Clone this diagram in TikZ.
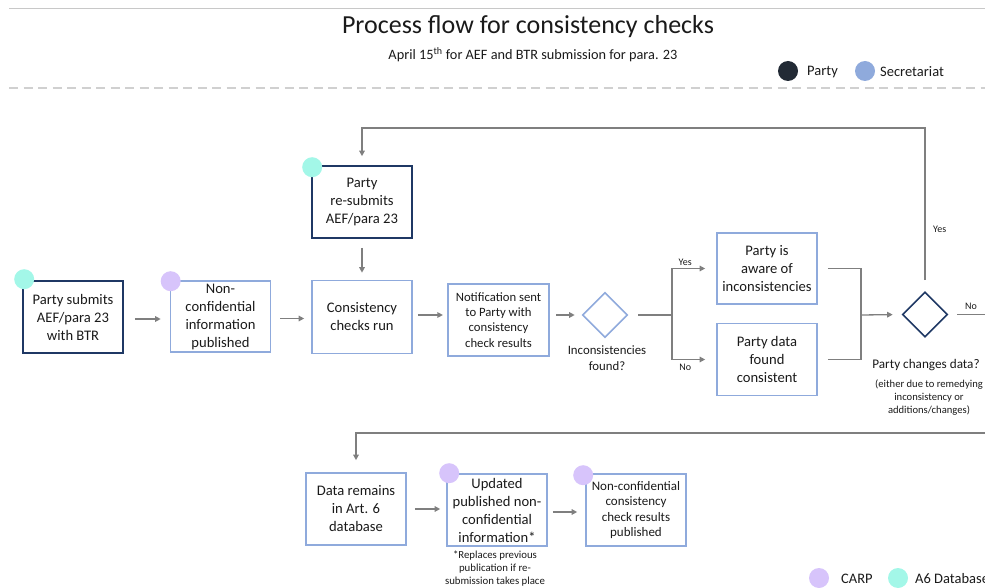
\documentclass[tikz,border=0pt]{standalone}
\usepackage{fontspec}
\setmainfont{Carlito}
\usetikzlibrary{shapes.geometric,arrows.meta}

\definecolor{navy}{HTML}{1F3864}
\definecolor{partydot}{HTML}{222A35}
\definecolor{secblue}{HTML}{8FAADC}
\definecolor{carp}{HTML}{D7C4FB}
\definecolor{aqua}{HTML}{A3F7E8}
\definecolor{flowgray}{HTML}{7F7F7F}
\definecolor{txt}{HTML}{1A1A1A}
\definecolor{rulegray}{HTML}{C8C8C8}
\definecolor{dashgray}{HTML}{D0D0D0}

\tikzset{
  box/.style={minimum width=100pt, minimum height=72pt, inner sep=1pt,
    align=center, text=txt, font=\fontsize{14.6}{18}\selectfont},
  partybox/.style={box, draw=navy, line width=1.6pt},
  secbox/.style={box, draw=secblue, line width=1.6pt},
  decision/.style={diamond, minimum width=45pt, minimum height=45pt,
    inner sep=0pt, line width=1.6pt},
  dot/.style={circle, fill=#1, minimum size=20pt, inner sep=0pt},
  link/.style={draw=flowgray, line width=1.3pt},
  flow/.style={link, -{Triangle[length=5.5pt,width=5.5pt]}},
  tag/.style={text=txt, font=\fontsize{10}{12}\selectfont, inner sep=1pt},
  note/.style={text=txt, align=center, inner sep=0pt},
  legendtext/.style={note, anchor=west, font=\fontsize{14.5}{16}\selectfont},
}

\begin{document}
\begin{tikzpicture}[x=1pt,y=-1pt]
\useasboundingbox (0,0) rectangle (985,588);
\clip (0,0) rectangle (985,588);

% header
\draw[rulegray, line width=1pt] (9,9) -- (990,9);
\node[note, font=\fontsize{26}{30}\selectfont] (title) at (528,27)
  {Process flow for consistency checks};
\node[note, font=\fontsize{14.3}{16}\selectfont] (subtitle) at (533,55)
  {April 15\textsuperscript{th} for AEF and BTR submission for para. 23};
\draw[dashgray, line width=2pt, dash pattern=on 9pt off 5.5pt] (9,88) -- (990,88);

% legend (roles)
\node[dot=partydot] (lgparty) at (788,71) {};
\node[legendtext] (lgpartyt) at (807,72) {Party};
\node[dot=secblue] (lgsec) at (865,71) {};
\node[legendtext] (lgsect) at (880,72) {Secretariat};

% legend (systems)
\node[dot=carp] (lgcarp) at (819,578) {};
\node[legendtext] (lgcarpt) at (841,579) {CARP};
\node[dot=aqua] (lgaqua) at (898,578) {};
\node[legendtext] (lgaquat) at (915,579) {A6 Database};

% steps
\node[partybox] (A) at (73,317) {Party submits\\AEF/para 23\\with BTR};
\node[secbox, minimum height=71pt] (B) at (220.5,316.5) {Non-\\confidential\\information\\published};
\node[secbox, minimum height=73pt] (C) at (362,317) {Consistency\\checks run};
\node[partybox] (D) at (362,202) {Party\\re-submits\\AEF/para 23};
\node[secbox, minimum width=101pt, line width=2.2pt,
      font=\fontsize{12.7}{15.3}\selectfont] (E) at (498.5,320)
  {Notification sent\\to Party with\\consistency\\check results};
\node[decision, draw=secblue] (d1) at (605,315) {};
\node[note, anchor=north, font=\fontsize{12.8}{16}\selectfont] (d1t) at (607,345)
  {Inconsistencies\\found?};
\node[secbox, minimum height=71pt] (F) at (767,268.5) {Party is\\aware of\\inconsistencies};
\node[secbox] (G) at (767,359.5) {Party data\\found\\consistent};
\node[decision, draw=navy] (d2) at (925,314.5) {};
\node[note, font=\fontsize{13.2}{15}\selectfont] (d2t) at (926,365) {Party changes data?};
\node[note, anchor=north, font=\fontsize{10.6}{13}\selectfont] (d2n) at (929,380)
  {(either due to remedying\\inconsistency or\\additions/changes)};
\node[secbox] (H) at (356,509) {Data remains\\in Art. 6\\database};
\node[secbox] (I) at (497,510) {Updated\\published non-\\confidential\\information*};
\node[note, anchor=north, font=\fontsize{10.8}{13}\selectfont] (Inote) at (495,551)
  {*Replaces previous\\publication if re-\\submission takes place};
\node[secbox, font=\fontsize{13}{15.5}\selectfont] (J) at (636,510)
  {Non-confidential\\consistency\\check results\\published};

% system markers on the boxes
\node[dot=aqua] (Amark) at ([xshift=2pt,yshift=1pt]A.north west) {};
\node[dot=carp] (Bmark) at ([xshift=1pt,yshift=-1pt]B.north west) {};
\node[dot=aqua] (Dmark) at ([xshift=1pt,yshift=-2pt]D.north west) {};
\node[dot=carp] (Imark) at ([xshift=3pt]I.north west) {};
\node[dot=carp] (Jmark) at ([xshift=-2pt,yshift=-2pt]J.north west) {};

% helper points
\coordinate (j1) at (672,315);
\coordinate (j2) at (861,315);
\coordinate (loopy) at (0,128);
\coordinate (edge) at (995,0);
\coordinate (lowy) at (0,433);

% main flow
\draw[flow, shorten <=11pt, shorten >=9pt] ([yshift=-2pt]A.east) -- ([yshift=-2pt]B.west |- A.east);
\draw[flow, shorten <=9pt, shorten >=7pt] ([yshift=-2pt]B.east) -- ([yshift=-2pt]C.west |- B.east);
\draw[flow, shorten <=9pt, shorten >=7pt] (D.south) -- (C.north);
\draw[flow, shorten <=5pt, shorten >=4pt] (C.east |- j1) -- (E.west |- j1);
\draw[flow, shorten <=6pt, shorten >=7pt] (E.east |- j1) -- (d1.west);

% branch after the first decision
\draw[link, shorten <=10pt] (d1.east) -- (j1);
\draw[flow, shorten >=11pt] (j1) |- node[tag, pos=0.65, above=1pt] (yes1) {Yes} (F.west);
\draw[flow, shorten >=11pt] (j1) |- node[tag, pos=0.65, below=3pt] (no1) {No} (G.west);

% merge into the second decision
\draw[link, shorten <=10pt] (F.east) -| (j2);
\draw[link, shorten <=10pt] (G.east) -| (j2);
\draw[flow, shorten >=9pt] (j2) -- (d2.west);

% re-submission loop
\draw[flow, shorten <=11pt, shorten >=9pt] (d2.north) -- (d2.north |- loopy) -| (D.north);
\node[tag, anchor=west] (yes2) at (932,229) {Yes};

% no change
\draw[link, shorten <=9pt] (d2.east) -- (d2.east -| edge);
\node[tag] (no2) at (971,306) {No};

% publication row
\draw[flow, shorten >=12pt] (edge |- lowy) -| (H.north);
\draw[flow, shorten <=8pt, shorten >=6pt] (H.east) -- (I.west |- H.east);
\draw[flow, shorten <=5pt, shorten >=8pt] ([yshift=-2pt]I.east) -- ([yshift=-2pt]J.west);

\end{tikzpicture}
\end{document}
